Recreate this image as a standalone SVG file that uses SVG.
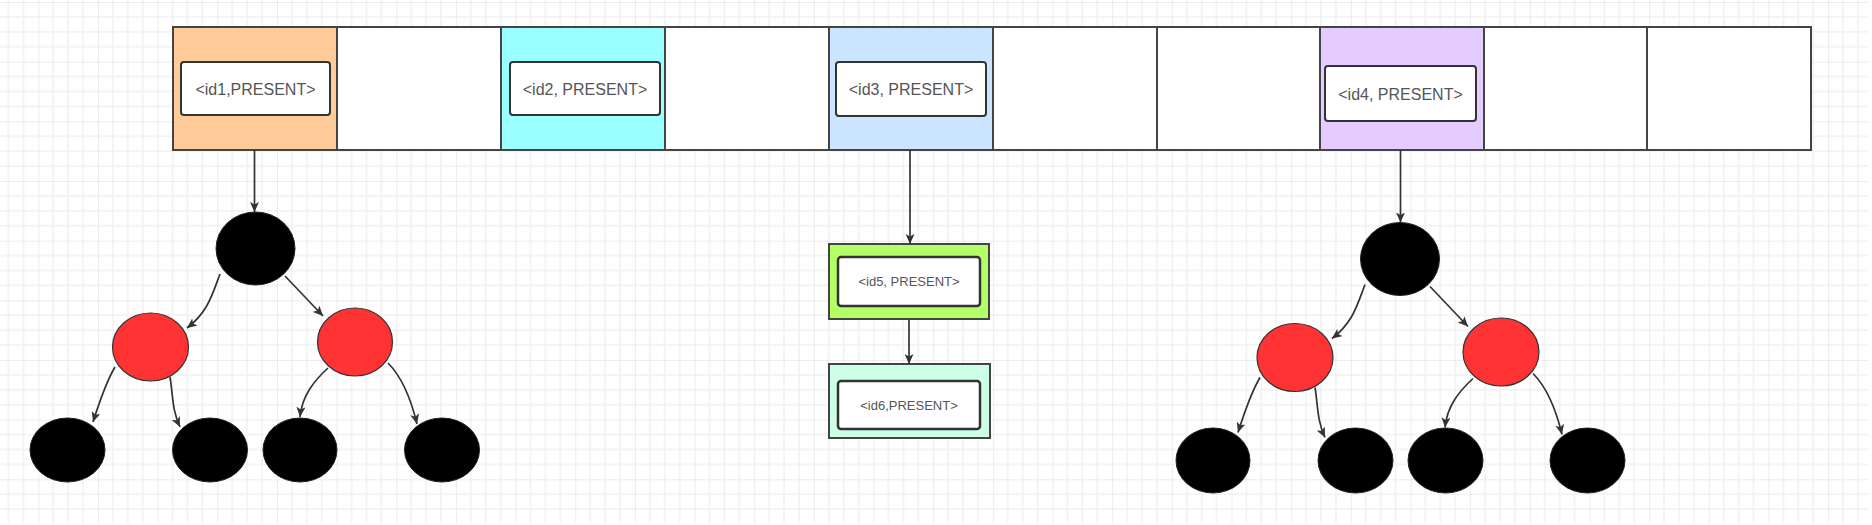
<svg xmlns="http://www.w3.org/2000/svg" width="1872" height="525" viewBox="0 0 1872 525">
<defs>
<pattern id="grid" patternUnits="userSpaceOnUse" x="38.3" y="2" width="59.66" height="59.66">
<path d="M14.915 0V59.66M29.83 0V59.66M44.745 0V59.66M0 14.915H59.66M0 29.83H59.66M0 44.745H59.66" stroke="#f1f1f1" stroke-width="1.5" fill="none"/>
<path d="M0 0V59.66M0 0H59.66" stroke="#e6e6e6" stroke-width="1.5" fill="none"/>
</pattern>
<marker id="arr" markerUnits="userSpaceOnUse" markerWidth="11" markerHeight="9" refX="10" refY="4.5" orient="auto">
<path d="M0,0 L10,4.5 L0,9 L2.5,4.5 z" fill="#333"/>
</marker>
</defs>
<style>
.cell{stroke:#444;stroke-width:2}
.lbl{fill:#fff;stroke:#333;stroke-width:2}
.txt{font-family:"Liberation Sans",Arial,sans-serif;fill:#555;text-anchor:middle}
.t16{font-size:16px}
.t13{font-size:13px}
.blk{fill:#000;stroke:#222;stroke-width:1}
.red{fill:#ff3333;stroke:#333;stroke-width:1.2}
.edge{fill:none;stroke:#333;stroke-width:1.7;marker-end:url(#arr)}
</style>
<rect x="0" y="0" width="1872" height="525" fill="#fff"/>
<rect x="0" y="0" width="1868" height="523" fill="url(#grid)"/>

<g id="array">
<rect class="cell" x="173" y="27" width="164" height="123" fill="#ffcc99"/>
<rect class="cell" x="337" y="27" width="164" height="123" fill="#fff"/>
<rect class="cell" x="501" y="27" width="164" height="123" fill="#99ffff"/>
<rect class="cell" x="665" y="27" width="164" height="123" fill="#fff"/>
<rect class="cell" x="829" y="27" width="164" height="123" fill="#cce5ff"/>
<rect class="cell" x="993" y="27" width="164" height="123" fill="#fff"/>
<rect class="cell" x="1157" y="27" width="163" height="123" fill="#fff"/>
<rect class="cell" x="1320" y="27" width="164" height="123" fill="#e5ccff"/>
<rect class="cell" x="1484" y="27" width="163" height="123" fill="#fff"/>
<rect class="cell" x="1647" y="27" width="164" height="123" fill="#fff"/>
</g>

<g id="id1">
<rect class="lbl" x="181" y="62" width="149" height="53" rx="3"/>
<text class="txt t16" x="255.5" y="94.5">&lt;id1,PRESENT&gt;</text>
</g>
<g id="id2">
<rect class="lbl" x="510" y="62" width="150" height="53" rx="3"/>
<text class="txt t16" x="585" y="94.5">&lt;id2, PRESENT&gt;</text>
</g>
<g id="id3">
<rect class="lbl" x="836" y="62" width="150" height="54" rx="3"/>
<text class="txt t16" x="911" y="95">&lt;id3, PRESENT&gt;</text>
</g>
<g id="id4">
<rect class="lbl" x="1325" y="66" width="151" height="55" rx="3"/>
<text class="txt t16" x="1400.5" y="99.5">&lt;id4, PRESENT&gt;</text>
</g>

<g id="id5">
<rect x="829" y="244" width="160" height="75" fill="#b3ff66" stroke="#444" stroke-width="2"/>
<rect class="lbl" x="838" y="257" width="142" height="49" rx="3" style="stroke-width:2.5"/>
<text class="txt t13" x="909" y="286">&lt;id5, PRESENT&gt;</text>
</g>
<g id="id6">
<rect x="829" y="364" width="161" height="74" fill="#ccffe6" stroke="#444" stroke-width="2"/>
<rect class="lbl" x="838" y="381" width="142" height="48" rx="3" style="stroke-width:2.5"/>
<text class="txt t13" x="909" y="409.5">&lt;id6,PRESENT&gt;</text>
</g>

<g id="tree1-root"><ellipse class="blk" cx="255.5" cy="248.5" rx="39.5" ry="36.5"/></g>
<g id="tree1-l"><ellipse class="red" cx="150.5" cy="347" rx="38" ry="34"/></g>
<g id="tree1-r"><ellipse class="red" cx="355" cy="342" rx="37.5" ry="34"/></g>
<g id="tree1-ll"><ellipse class="blk" cx="67.5" cy="450" rx="37.5" ry="32"/></g>
<g id="tree1-lr"><ellipse class="blk" cx="210" cy="450" rx="37.5" ry="32"/></g>
<g id="tree1-rl"><ellipse class="blk" cx="300" cy="450" rx="37" ry="32"/></g>
<g id="tree1-rr"><ellipse class="blk" cx="442" cy="450" rx="37.5" ry="32"/></g>

<g id="tree2-root"><ellipse class="blk" cx="1400" cy="259" rx="39.5" ry="36.5"/></g>
<g id="tree2-l"><ellipse class="red" cx="1295" cy="357.5" rx="38" ry="34"/></g>
<g id="tree2-r"><ellipse class="red" cx="1501" cy="352" rx="38" ry="34"/></g>
<g id="tree2-ll"><ellipse class="blk" cx="1213" cy="460.5" rx="37" ry="32.5"/></g>
<g id="tree2-lr"><ellipse class="blk" cx="1355.5" cy="460.5" rx="37.5" ry="32.5"/></g>
<g id="tree2-rl"><ellipse class="blk" cx="1445.5" cy="460.5" rx="37.5" ry="32.5"/></g>
<g id="tree2-rr"><ellipse class="blk" cx="1587.5" cy="460.5" rx="37.5" ry="32.5"/></g>

<g id="connectors">
<path class="edge" d="M254.5 150 V212"/>
<path class="edge" d="M910 150 V244"/>
<path class="edge" d="M909 319 V364"/>
<path class="edge" d="M1400.5 150 V222.5"/>
<g id="tree1-edges">
<path class="edge" d="M220 274 C212 295 208 312 187 328"/>
<path class="edge" d="M285 276 L323 316"/>
<path class="edge" d="M115 367 C106 382 100 400 93 422"/>
<path class="edge" d="M170 377 C173 395 172 410 180 427"/>
<path class="edge" d="M328 368 C315 380 302 395 300 417"/>
<path class="edge" d="M388 363 C400 375 410 395 417 424"/>
</g>
<g id="tree2-edges" transform="translate(1145 10.5)">
<path class="edge" d="M220 274 C212 295 208 312 187 328"/>
<path class="edge" d="M285 276 L323 316"/>
<path class="edge" d="M115 367 C106 382 100 400 93 422"/>
<path class="edge" d="M170 377 C173 395 172 410 180 427"/>
<path class="edge" d="M328 368 C315 380 302 395 300 417"/>
<path class="edge" d="M388 363 C400 375 410 395 417 424"/>
</g>
</g>
</svg>
